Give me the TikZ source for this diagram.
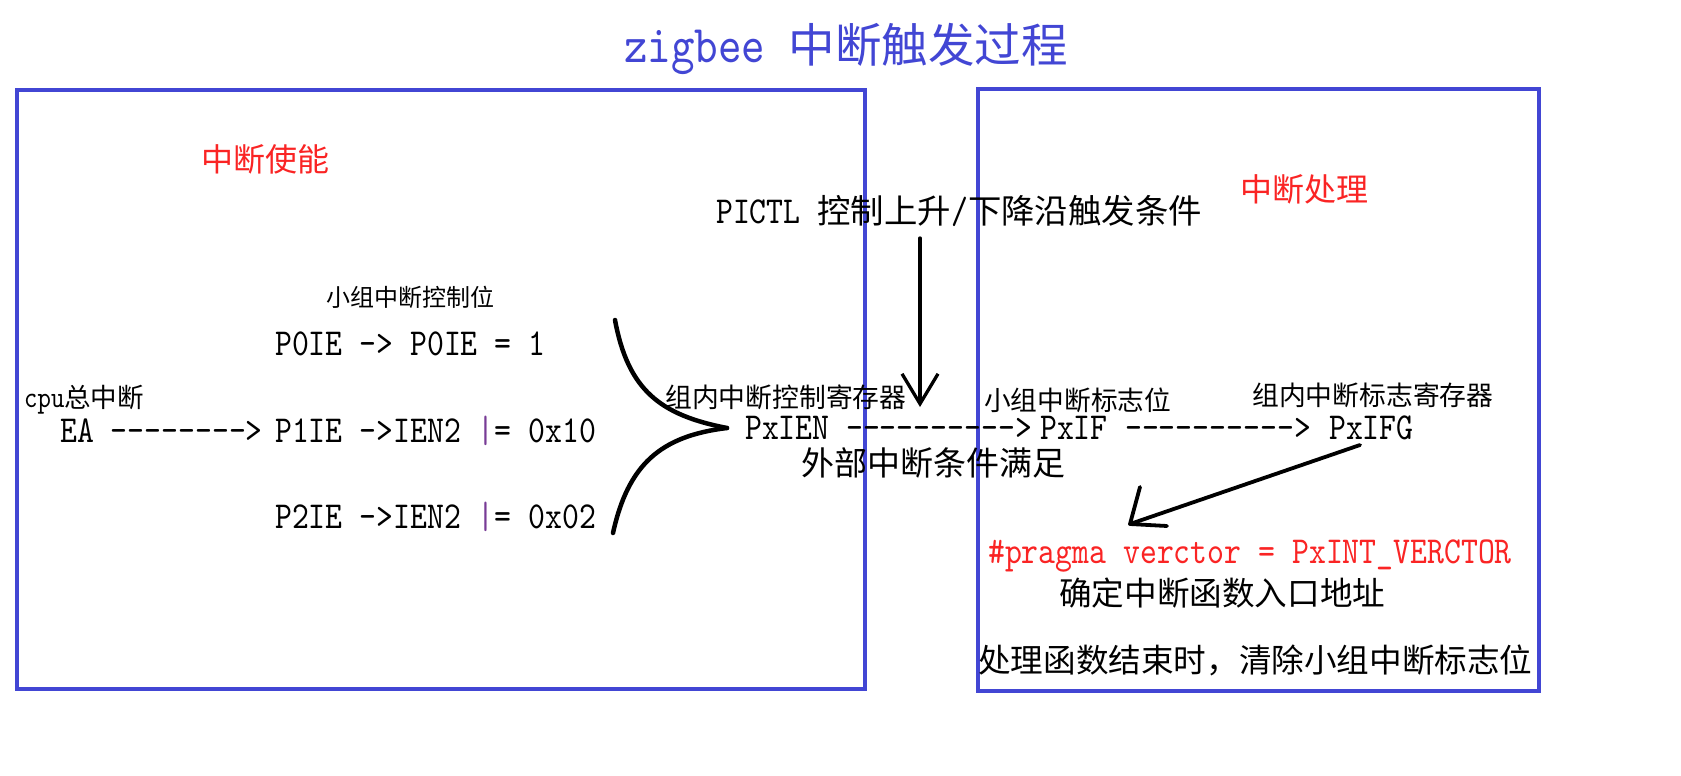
\documentclass[tikz,border=0pt]{standalone}
\usepackage{fontspec}
\setmainfont{Noto Sans CJK SC}
\newfontfamily\lat[FakeStretch=0.845,Scale=1.14]{lmmono10-regular.otf}
\usetikzlibrary{arrows.meta}
\definecolor{myblue}{RGB}{66,70,212}
\definecolor{myred}{RGB}{250,36,36}
\definecolor{mypurple}{RGB}{120,60,150}
\newcommand\setfs[1]{\fontsize{#1}{#1}\selectfont}
\newcommand\hy{-\kern0pt}
\tikzset{
  txt/.style={inner sep=0pt, anchor=west, text=black},
  btxt/.style={inner sep=0pt, anchor=base west, text=black},
  boxline/.style={draw=myblue, line width=3.2pt},
  bracecurve/.style={line width=4.5pt, line cap=round},
  arr/.style={line width=3.3pt, line cap=round, line join=round},
}
\begin{document}
\begin{tikzpicture}[x=1pt,y=-1pt]
\useasboundingbox[fill=white] (0,0) rectangle (1681,776);

% boxes
\draw[boxline] (17,90) rectangle (865,689);
\draw[boxline] (978,89) rectangle (1539,691);

% title
\node[btxt, text=myblue, font=\setfs{46.5}] (title) at (624,63) {{\lat zigbee }中断触发过程};

% left box
\node[txt, anchor=center, text=myred, font=\setfs{32}] (enable) at (265,159) {中断使能};
\node[txt, font=\setfs{24}] (grpctl) at (326,297) {小组中断控制位};
\node[btxt, font=\setfs{33.4}] (p0) at (275,355) {\lat P0IE -> P0IE = 1};
\node[btxt, font=\setfs{26.5}] (cpu) at (24,407) {{\lat cpu}总中断};
\node[btxt, font=\setfs{33.4}] (ea) at (60,442) {\lat EA \hy\hy\hy\hy\hy\hy\hy\hy>};
\node[btxt, font=\setfs{33.4}] (p1) at (275,442) {\lat P1IE ->IEN2 {\color{mypurple}|}= 0x10};
\node[btxt, font=\setfs{33.4}] (p2) at (275,528) {\lat P2IE ->IEN2 {\color{mypurple}|}= 0x02};

% brace
\coordinate (btop) at (615,320);
\coordinate (btip) at (727,428);
\coordinate (bbot) at (613,533);
\draw[bracecurve] (btop) .. controls (628,390) and (660,415) .. (btip);
\draw[bracecurve] (btip) .. controls (660,436) and (628,465) .. (bbot);

% middle row
\node[btxt, font=\setfs{33.4}] (pictl) at (716,223) {{\lat PICTL }控制上升{\lat /}下降沿触发条件};
\node[txt, font=\setfs{26.8}] (regctl) at (665,397) {组内中断控制寄存器};
\node[btxt, font=\setfs{33.4}] (pxien) at (745,439) {\lat PxIEN};
\node[btxt, font=\setfs{33.4}] (ar1) at (846,439) {\lat \hy\hy\hy\hy\hy\hy\hy\hy\hy\hy>};
\node[txt, font=\setfs{26.7}] (flagbit) at (984,400) {小组中断标志位};
\node[btxt, font=\setfs{33.4}] (pxif) at (1040,439) {\lat PxIF};
\node[btxt, font=\setfs{33.4}] (ar2) at (1125,439) {\lat \hy\hy\hy\hy\hy\hy\hy\hy\hy\hy>};
\node[txt, font=\setfs{26.8}] (flagreg) at (1252,395) {组内中断标志寄存器};
\node[btxt, font=\setfs{33.4}] (pxifg) at (1329,439) {\lat PxIFG};
\node[txt, font=\setfs{33}] (ext) at (801,463) {外部中断条件满足};

% down arrow
\coordinate (dtop) at (920,238);
\coordinate (dtip) at (920,407);
\draw[arr, -{Straight Barb[length=30pt, width=36pt]}] (dtop) -- (dtip);

% right box
\node[txt, anchor=center, text=myred, font=\setfs{32}] (handle) at (1304,189) {中断处理};
\node[btxt, text=myred, font=\setfs{33.4}] (pragma) at (988,563) {\lat \#pragma verctor = PxINT\_VERCTOR};
\node[txt, font=\setfs{32.6}] (entry) at (1059,593) {确定中断函数入口地址};
\node[txt, font=\setfs{32.6}] (clear) at (978,660) {处理函数结束时，清除小组中断标志位};

% diagonal arrow
\coordinate (ds) at (1360,445);
\coordinate (dt) at (1130,524);
\coordinate (db1) at (1140,487);
\coordinate (db2) at (1167,526);
\draw[arr, line width=3.8pt] (ds) -- (dt);
\draw[arr, line width=3.8pt] (db1) -- (dt) -- (db2);
\end{tikzpicture}
\end{document}
